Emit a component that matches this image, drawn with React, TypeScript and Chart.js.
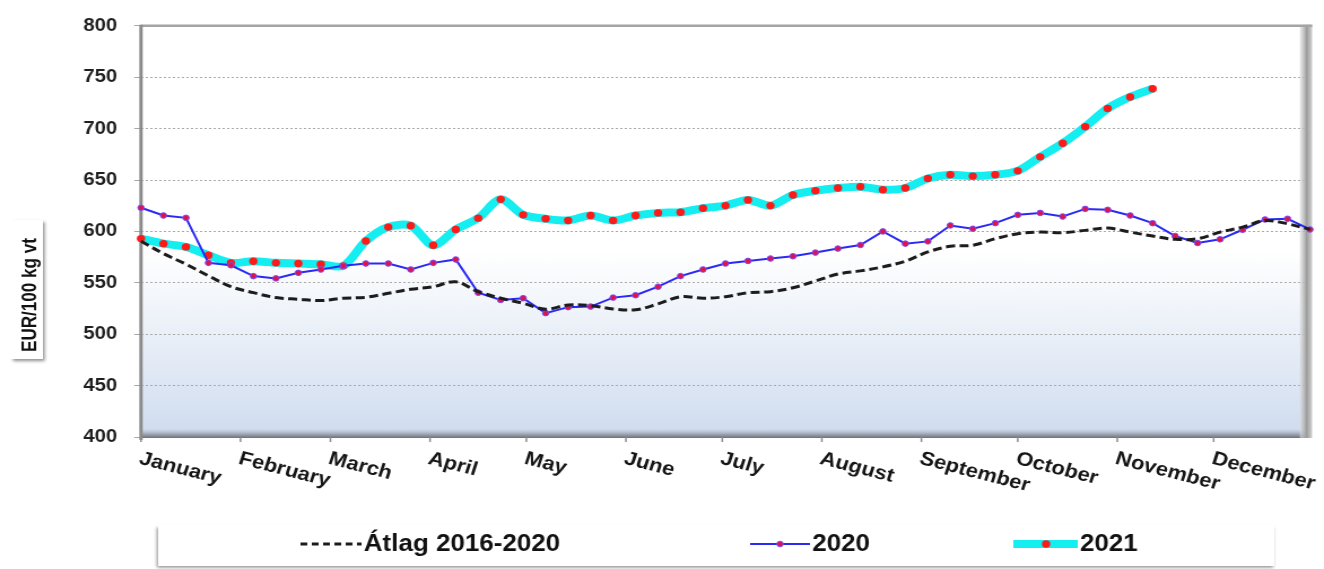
import React, { useEffect, useRef } from "react";
import { Chart, registerables } from "chart.js";

Chart.register(...registerables);

// internal canvas width; the picture is stretched horizontally to 1324px
const W = 1172;
const H = 569;
const SX = 1324 / W;

const FONT = "'Liberation Sans', Arial, Helvetica, sans-serif";

const monthNames = [
  "January", "February", "March", "April", "May", "June",
  "July", "August", "September", "October", "November", "December",
];
const monthStartDays = [0, 31, 59, 90, 120, 151, 181, 212, 243, 273, 304, 334];

const yMin = 400;
const yMax = 800;
const yStep = 50;

const legendLabels = ["Átlag 2016-2020", "2020", "2021"];
const yTitle = "EUR/100 kg vt";

// weekly values, EUR/100 kg live weight
const avgValues = [
  590.5, 578.4, 568.1, 556.8, 546.2, 540.4, 535.6, 534.0, 532.7, 535.0,
  535.9, 539.8, 543.7, 546.2, 551.0, 541.4, 535.0, 530.1, 524.3, 528.5,
  527.8, 524.6, 523.7, 529.5, 536.5, 535.0, 536.5, 540.4, 541.4, 545.2,
  551.7, 558.5, 561.6, 565.5, 571.0, 580.0, 585.5, 586.5, 592.9, 597.8,
  599.3, 598.7, 601.0, 603.2, 599.3, 595.5, 592.3, 592.9, 599.3, 604.2,
  610.6, 607.4, 601.9,
];

const values2020 = [
  623.0, 615.5, 613.2, 569.4, 567.0, 556.5, 554.3, 559.7, 563.0, 566.5,
  568.8, 568.8, 563.0, 569.4, 572.7, 540.4, 533.3, 535.0, 520.5, 526.3,
  526.9, 535.6, 537.9, 546.2, 556.5, 563.0, 568.8, 571.3, 573.6, 575.8,
  579.4, 583.3, 586.8, 600.0, 588.1, 590.3, 605.8, 602.6, 608.0, 616.1,
  618.0, 614.5, 621.9, 621.0, 615.5, 608.0, 595.5, 588.7, 592.3, 601.6,
  611.6, 612.3, 601.9,
];

const values2021 = [
  593.0, 588.1, 584.9, 576.8, 569.4, 571.0, 569.4, 568.8, 568.1, 566.5,
  590.6, 604.2, 605.5, 586.5, 601.9, 612.9, 631.2, 616.1, 612.3, 610.6,
  615.5, 610.6, 615.5, 618.0, 618.7, 622.5, 625.1, 630.6, 625.1, 635.4,
  639.6, 642.2, 643.5, 640.6, 642.2, 651.5, 655.1, 653.8, 655.1, 658.9,
  672.5, 685.7, 701.8, 719.5, 730.8, 738.8,
];

const toXY = (arr: number[]) => arr.map((v, i) => ({ x: i, y: v }));

const decorPlugin = {
  id: "decor",
  beforeDraw(chart: any) {
    const { ctx, chartArea: a } = chart;
    ctx.save();
    const g = ctx.createLinearGradient(0, a.top, 0, a.bottom);
    g.addColorStop(0, "#ffffff");
    g.addColorStop(0.55, "#ffffff");
    g.addColorStop(1, "#cfdcef");
    ctx.fillStyle = g;
    ctx.fillRect(a.left, a.top, a.right - a.left, a.bottom - a.top);
    ctx.restore();
  },
  beforeDatasetsDraw(chart: any) {
    const { ctx, chartArea: a } = chart;
    ctx.save();
    // floor band
    const g2 = ctx.createLinearGradient(0, a.bottom - 8, 0, a.bottom + 1);
    g2.addColorStop(0, "rgba(170,185,205,0)");
    g2.addColorStop(0.6, "#9aa3ae");
    g2.addColorStop(1, "#6c7178");
    ctx.fillStyle = g2;
    ctx.fillRect(a.left, a.bottom - 8, a.right - a.left, 9);
    // right wall
    const g3 = ctx.createLinearGradient(a.right - 9, 0, a.right + 2, 0);
    g3.addColorStop(0, "rgba(220,220,220,0.6)");
    g3.addColorStop(0.55, "#9b9b9b");
    g3.addColorStop(1, "#d4d4d4");
    ctx.fillStyle = g3;
    ctx.fillRect(a.right - 9, a.top - 1, 11, a.bottom - a.top + 2);
    // top border
    ctx.strokeStyle = "#a4a4a4";
    ctx.lineWidth = 2.5;
    ctx.beginPath();
    ctx.moveTo(a.left, a.top);
    ctx.lineTo(a.right + 2, a.top);
    ctx.stroke();
    // left axis
    ctx.strokeStyle = "#8a8a8a";
    ctx.lineWidth = 3;
    ctx.beginPath();
    ctx.moveTo(a.left, a.top - 1);
    ctx.lineTo(a.left, a.bottom + 3);
    ctx.stroke();
    // x tick marks
    const xs = chart.scales.x;
    ctx.strokeStyle = "#8c8c8c";
    ctx.lineWidth = 1.5;
    monthStartDays.forEach((d) => {
      const px = xs.getPixelForValue(d / 7);
      ctx.beginPath();
      ctx.moveTo(px, a.bottom);
      ctx.lineTo(px, a.bottom + 5);
      ctx.stroke();
    });
    ctx.restore();
  },
  afterDraw(chart: any) {
    const { ctx, chartArea: a } = chart;
    const xs = chart.scales.x;
    ctx.save();
    // month labels
    ctx.fillStyle = "#151515";
    ctx.font = `bold 19.5px ${FONT}`;
    ctx.textAlign = "left";
    ctx.textBaseline = "top";
    monthNames.forEach((m, i) => {
      const px = xs.getPixelForValue(monthStartDays[i] / 7);
      ctx.save();
      ctx.translate(px + 1.5, a.bottom + 12);
      ctx.rotate((16 * Math.PI) / 180);
      ctx.fillText(m, 0, 0);
      ctx.restore();
    });

    // y title box
    ctx.save();
    ctx.shadowColor = "rgba(0,0,0,0.45)";
    ctx.shadowBlur = 3;
    ctx.shadowOffsetX = 1.5;
    ctx.shadowOffsetY = 2;
    ctx.fillStyle = "#ffffff";
    ctx.fillRect(9, 220, 29, 139);
    ctx.restore();
    ctx.save();
    ctx.fillStyle = "#111111";
    ctx.font = `bold 18px ${FONT}`;
    const tw = ctx.measureText(yTitle).width;
    ctx.translate(31.5, 295);
    ctx.rotate(-Math.PI / 2);
    ctx.scale(114 / tw, 1);
    ctx.textAlign = "center";
    ctx.textBaseline = "alphabetic";
    ctx.fillText(yTitle, 0, 0);
    ctx.restore();

    // legend box
    ctx.save();
    ctx.shadowColor = "rgba(0,0,0,0.45)";
    ctx.shadowBlur = 3;
    ctx.shadowOffsetX = -1;
    ctx.shadowOffsetY = 1.5;
    ctx.fillStyle = "#ffffff";
    ctx.fillRect(140, 525, 988, 41);
    ctx.restore();

    const ly = 544;
    ctx.save();
    ctx.font = `bold 23px ${FONT}`;
    ctx.textAlign = "left";
    ctx.textBaseline = "middle";
    ctx.fillStyle = "#111111";
    // avg sample
    ctx.strokeStyle = "#1c1c1c";
    ctx.lineWidth = 3;
    ctx.setLineDash([6, 4]);
    ctx.beginPath();
    ctx.moveTo(266, ly);
    ctx.lineTo(320, ly);
    ctx.stroke();
    ctx.setLineDash([]);
    ctx.fillText(legendLabels[0], 322, ly + 1);
    // 2020 sample
    ctx.strokeStyle = "#2a2af5";
    ctx.lineWidth = 2;
    ctx.beginPath();
    ctx.moveTo(664, ly);
    ctx.lineTo(717, ly);
    ctx.stroke();
    ctx.beginPath();
    ctx.arc(690.5, ly, 2.8, 0, Math.PI * 2);
    ctx.fillStyle = "#dc1448";
    ctx.fill();
    ctx.strokeStyle = "#7b4dff";
    ctx.lineWidth = 1;
    ctx.stroke();
    ctx.fillStyle = "#111111";
    ctx.fillText(legendLabels[1], 719, ly + 1);
    // 2021 sample
    ctx.strokeStyle = "#14eef0";
    ctx.lineWidth = 8;
    ctx.lineCap = "butt";
    ctx.beginPath();
    ctx.moveTo(897, ly);
    ctx.lineTo(954, ly);
    ctx.stroke();
    ctx.beginPath();
    ctx.arc(926, ly, 3.7, 0, Math.PI * 2);
    ctx.fillStyle = "#ff1a1a";
    ctx.fill();
    ctx.fillStyle = "#111111";
    ctx.fillText(legendLabels[2], 956, ly + 1);
    ctx.restore();

    ctx.restore();
  },
};

export default function App() {
  const ref = useRef<HTMLCanvasElement | null>(null);

  useEffect(() => {
    if (!ref.current) return;
    const chart = new Chart(ref.current, {
      type: "line",
      data: {
        datasets: [
          {
            label: legendLabels[0],
            data: toXY(avgValues),
            borderColor: "#1c1c1c",
            borderWidth: 3,
            borderDash: [8, 4],
            pointRadius: 0,
            tension: 0.35,
            fill: false,
            clip: false as any,
          },
          {
            label: legendLabels[1],
            data: toXY(values2020),
            borderColor: "#2a2af5",
            borderWidth: 2,
            pointRadius: 2.8,
            pointBackgroundColor: "#dc1448",
            pointBorderColor: "#7b4dff",
            pointBorderWidth: 1,
            tension: 0,
            fill: false,
            clip: false as any,
          },
          {
            label: legendLabels[2],
            data: toXY(values2021),
            borderColor: "#14eef0",
            borderWidth: 8,
            pointRadius: 3.7,
            pointBackgroundColor: "#ff1a1a",
            pointBorderWidth: 0,
            tension: 0.3,
            fill: false,
            clip: false as any,
          },
        ],
      },
      options: {
        responsive: false,
        animation: false,
        devicePixelRatio: 1,
        events: [],
        layout: { padding: { top: 24, right: W - 1159.6, left: 0, bottom: 0 } },
        plugins: {
          legend: { display: false },
          tooltip: { enabled: false },
          title: { display: false },
        },
        scales: {
          x: {
            type: "linear",
            min: 0,
            max: 52,
            grid: { display: false },
            border: { display: false },
            ticks: { display: false },
            afterFit: (s: any) => {
              s.height = H - 437;
            },
          },
          y: {
            min: yMin,
            max: yMax,
            ticks: {
              stepSize: yStep,
              padding: 15,
              color: "#1f1f1f",
              font: { family: FONT, size: 18, weight: "bold" },
            },
            grid: {
              color: "#a9a9a9",
              lineWidth: 1,
              drawTicks: true,
              tickLength: 6,
            },
            border: { display: false, dash: [2, 2] },
            afterFit: (s: any) => {
              s.width = 124.8;
            },
          },
        },
      },
      plugins: [decorPlugin],
    } as any);
    return () => chart.destroy();
  }, []);

  return (
    <div
      style={{
        position: "absolute",
        left: 0,
        top: 0,
        width: 1324,
        height: 569,
        overflow: "hidden",
        background: "#ffffff",
      }}
    >
      <canvas
        ref={ref}
        width={W}
        height={H}
        style={{
          display: "block",
          width: W + "px",
          height: H + "px",
          transform: `scaleX(${SX})`,
          transformOrigin: "0 0",
        }}
      />
    </div>
  );
}
